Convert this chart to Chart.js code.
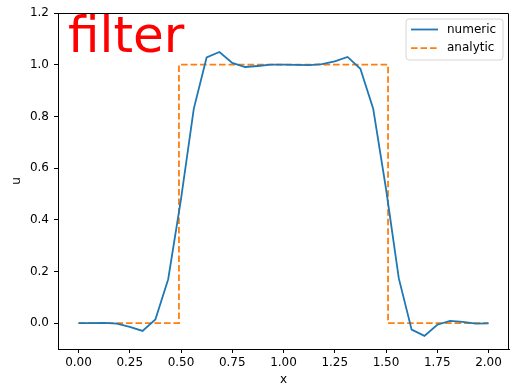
<!DOCTYPE html>
<html>
<head>
<meta charset="utf-8">
<script src="https://cdn.jsdelivr.net/npm/chart.js@4.4.1/dist/chart.umd.min.js"></script>
<style>
  html, body { margin: 0; padding: 0; background: #fff; }
  #wrap { width: 511px; height: 387px; }
</style>
</head>
<body>
<div id="wrap"><canvas id="chart-1" width="511" height="387"></canvas></div>
<script>
// grid points of the numeric solution
var xNum = [0, 0.0625, 0.125, 0.1875, 0.25, 0.3125, 0.375, 0.4375, 0.5, 0.5625, 0.625, 0.6875,
	0.75, 0.8125, 0.875, 0.9375, 1.0, 1.0625, 1.125, 1.1875, 1.25, 1.3125, 1.375, 1.4375,
	1.5, 1.5625, 1.625, 1.6875, 1.75, 1.8125, 1.875, 1.9375, 2.0];
var uNum = [0, 0, 0.001, -0.002, -0.014, -0.03, 0.014, 0.17, 0.48, 0.83, 1.028, 1.049,
	1.007, 0.991, 0.995, 1.0, 1.0, 0.999, 0.998, 1.002, 1.013, 1.03, 0.984, 0.83,
	0.52, 0.173, -0.025, -0.049, -0.006, 0.009, 0.005, -0.002, -0.001];

// analytic square pulse
var xAna = [0, 0.49, 0.49, 1.51, 1.51, 2.0];
var uAna = [0, 0, 1, 1, 0, 0];

var xTicks = [0, 0.25, 0.5, 0.75, 1.0, 1.25, 1.5, 1.75, 2.0];
var yTicks = [0, 0.2, 0.4, 0.6, 0.8, 1.0, 1.2];

var seriesNames = ["numeric", "analytic"];
var seriesColors = ["#1f77b4", "#ff7f0e"];
var titleText = "filter";

function toPoints(xs, ys) {
	var pts = [];
	for (var i in xs) {
		pts.push({ x: xs[i], y: ys[i] });
	}
	return pts;
}

var font = "'DejaVu Sans', sans-serif";
var dash = [6.6, 2.9];

// top/right spines, big label and legend drawn on top
var decorPlugin = {
	id: "decor",
	afterDraw: function (chart) {
		var c = chart.ctx;
		var a = chart.chartArea;
		c.save();
		c.strokeStyle = "#000";
		c.lineWidth = 1;
		c.beginPath();
		c.moveTo(a.left, a.top + 0.5);
		c.lineTo(a.right - 0.5, a.top + 0.5);
		c.lineTo(a.right - 0.5, a.bottom);
		c.stroke();

		// red label
		c.fillStyle = "#ff0000";
		c.font = "50px " + font;
		c.textBaseline = "alphabetic";
		c.fillText(titleText, a.left + 10, a.top + 39);

		// legend box
		var bx = 406, by = 19, bw = 97, bh = 41, r = 3;
		c.beginPath();
		c.moveTo(bx + r, by);
		c.arcTo(bx + bw, by, bx + bw, by + bh, r);
		c.arcTo(bx + bw, by + bh, bx, by + bh, r);
		c.arcTo(bx, by + bh, bx, by, r);
		c.arcTo(bx, by, bx + bw, by, r);
		c.closePath();
		c.fillStyle = "rgba(255,255,255,0.8)";
		c.fill();
		c.strokeStyle = "#d6d6d6";
		c.lineWidth = 1;
		c.stroke();

		c.font = "12px " + font;
		c.textBaseline = "middle";
		for (var i = 0; i < seriesNames.length; i++) {
			var ly = by + 10.5 + i * 18.7;
			c.beginPath();
			c.strokeStyle = seriesColors[i];
			c.lineWidth = 1.8;
			c.setLineDash(i == 1 ? dash : []);
			c.moveTo(411, ly);
			c.lineTo(438, ly);
			c.stroke();
			c.setLineDash([]);
			c.fillStyle = "#000";
			c.fillText(seriesNames[i], 447, ly);
		}
		c.restore();
	}
};

var ctx = document.getElementById("chart-1");

var chart = new Chart(ctx, {
	type: "line",
	data: {
		datasets: [
			{
				label: seriesNames[0],
				data: toPoints(xNum, uNum),
				borderColor: seriesColors[0],
				borderWidth: 1.8,
				pointRadius: 0,
				tension: 0,
				fill: false
			},
			{
				label: seriesNames[1],
				data: toPoints(xAna, uAna),
				borderColor: seriesColors[1],
				borderWidth: 1.8,
				borderDash: dash,
				pointRadius: 0,
				tension: 0,
				fill: false
			}
		]
	},
	options: {
		responsive: false,
		animation: false,
		layout: { padding: { top: 13, right: 2, left: 0, bottom: 0 } },
		plugins: {
			legend: { display: false },
			tooltip: { enabled: false }
		},
		scales: {
			x: {
				type: "linear",
				min: -0.1,
				max: 2.1,
				afterBuildTicks: function (scale) {
					scale.ticks = xTicks.map(function (v) { return { value: v }; });
				},
				afterFit: function (scale) { scale.height = 38; },
				ticks: {
					color: "#000",
					font: { family: font, size: 12 },
					padding: 3,
					maxRotation: 0,
					autoSkip: false,
					callback: function (v) { return v.toFixed(2); }
				},
				grid: { drawOnChartArea: false, tickLength: 4, tickColor: "#000", tickWidth: 1 },
				border: { display: true, color: "#000", width: 1 },
				title: { display: true, text: "x", color: "#000", font: { family: font, size: 12 }, padding: { top: 0, bottom: 0 } }
			},
			y: {
				min: -0.1,
				max: 1.2,
				afterBuildTicks: function (scale) {
					scale.ticks = yTicks.map(function (v) { return { value: v }; });
				},
				afterFit: function (scale) { scale.width = 58; },
				ticks: {
					color: "#000",
					font: { family: font, size: 12 },
					padding: 5,
					autoSkip: false,
					callback: function (v) { return v.toFixed(1); }
				},
				grid: { drawOnChartArea: false, tickLength: 4, tickColor: "#000", tickWidth: 1 },
				border: { display: true, color: "#000", width: 1 },
				title: { display: true, text: "u", color: "#000", font: { family: font, size: 12 }, padding: { top: 10, bottom: 0 } }
			}
		}
	},
	plugins: [decorPlugin]
});
</script>
</body>
</html>
